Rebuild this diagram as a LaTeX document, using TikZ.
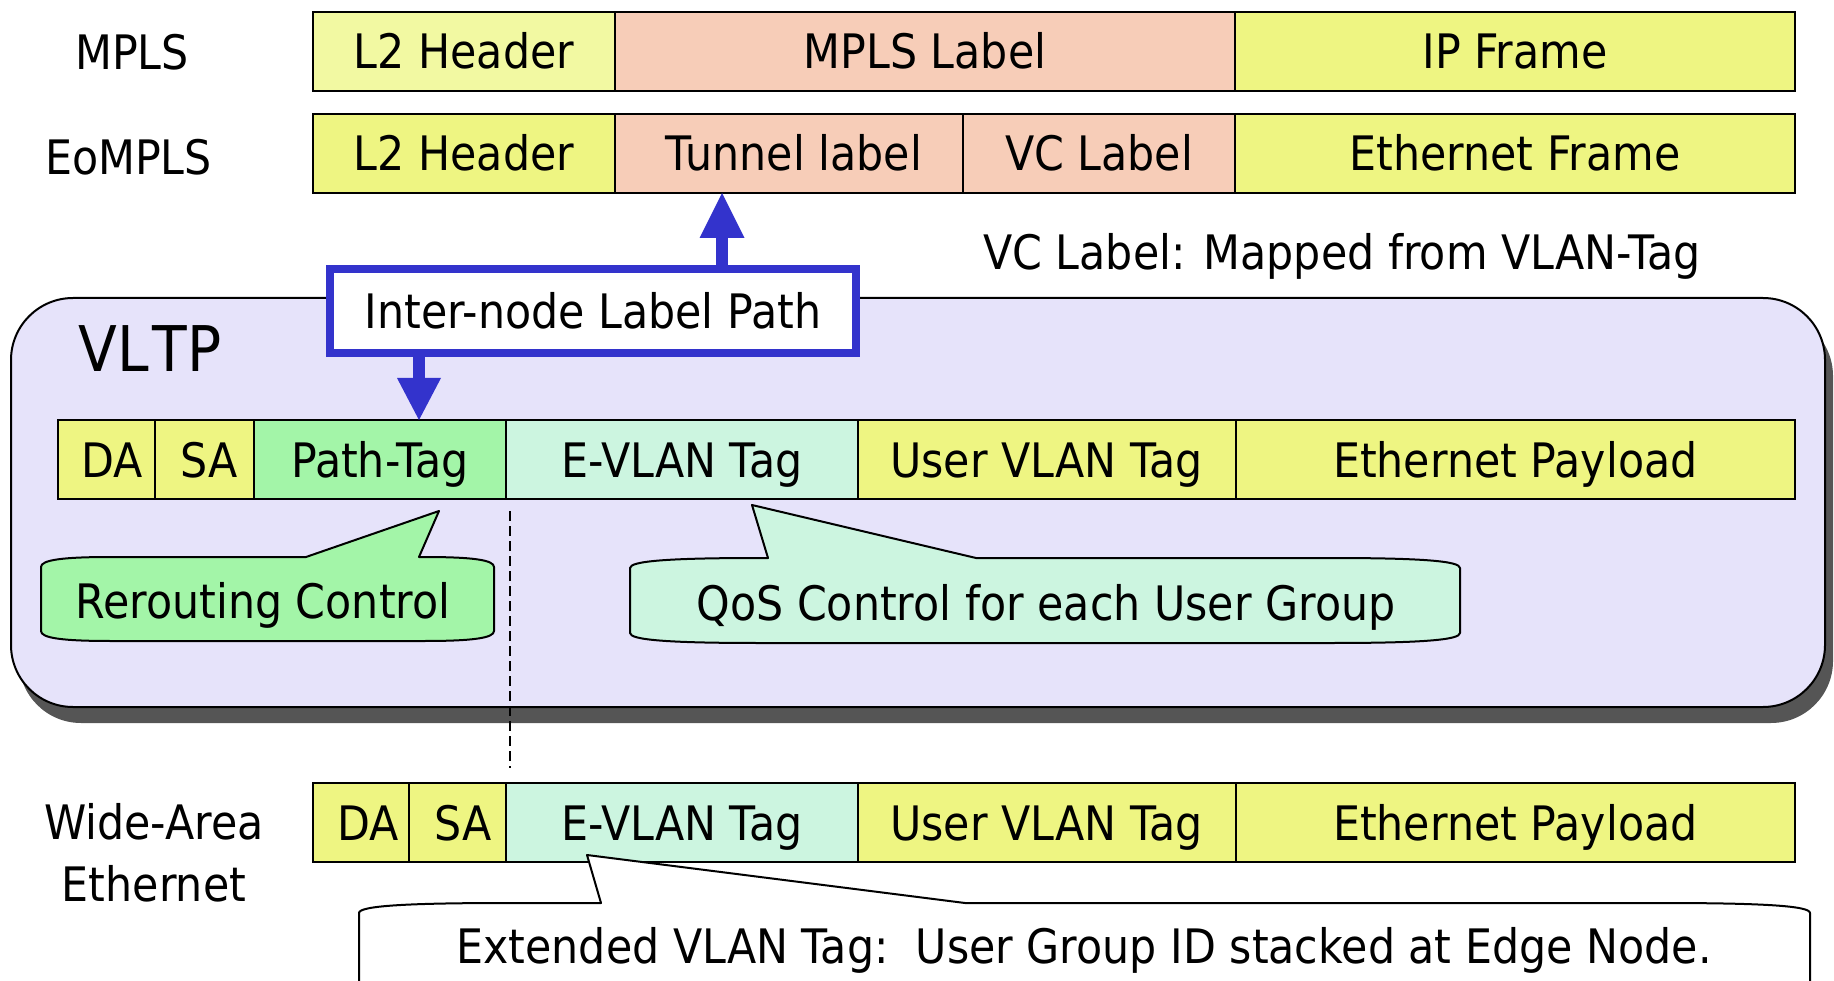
\documentclass[tikz,border=0pt]{standalone}
\usepackage{fontspec}
\setmainfont{DejaVu Sans}[FakeStretch=0.9]
\usetikzlibrary{arrows.meta,calc}

\definecolor{hdrlight}{RGB}{242,249,162}
\definecolor{ylw}{RGB}{238,245,130}
\definecolor{salmon}{RGB}{247,205,184}
\definecolor{pathgreen}{RGB}{163,245,168}
\definecolor{evlan}{RGB}{204,245,224}
\definecolor{lav}{RGB}{230,227,250}
\definecolor{lblue}{RGB}{51,51,204}
\definecolor{shadowgray}{RGB}{85,85,85}

% speech bubble: #1 left, #2 right, #3 top, #4 bottom, #5/#6 tail base x,
% #7 tail tip coordinate, #8 horizontal corner reach, #9 style
\newcommand\bubble[9]{%
  \draw[#9] (#1,#3+10) .. controls (#1,#3+3) and (#1+0.3*#8,#3) .. (#1+#8,#3)
    -- (#5,#3) -- (#7) -- (#6,#3) -- (#2-#8,#3)
    .. controls (#2-0.3*#8,#3) and (#2,#3+3) .. (#2,#3+10)
    -- (#2,#4-10) .. controls (#2,#4-3) and (#2-0.3*#8,#4) .. (#2-#8,#4)
    -- (#1+#8,#4) .. controls (#1+0.3*#8,#4) and (#1,#4-3) .. (#1,#4-10) -- cycle;}

\begin{document}
\begin{tikzpicture}[x=1pt,y=-1pt,
  every node/.style={font=\fontsize{47.5}{62}\selectfont},
  cell/.style={draw=black, line width=2pt, inner sep=0pt, outer sep=0pt,
    minimum height=79pt, text height=35pt, text depth=0pt, anchor=north west},
  label/.style={inner sep=0pt, anchor=base},
  bubbleline/.style={draw=black, line width=2pt, line join=round},
  bluearrow/.style={draw=lblue, line width=12pt},
  guide/.style={draw=black, line width=1.5pt, dash pattern=on 10pt off 5pt}]

\useasboundingbox (0,0) rectangle (1834,981);

% VLTP container with drop shadow
\fill[shadowgray, rounded corners=62pt] (19,314) rectangle (1833,723);
\draw[fill=lav, line width=2pt, rounded corners=62pt] (11,298) rectangle (1825,707);
\node[inner sep=0pt, anchor=base west, font=\fontsize{63}{70}\selectfont] (vltp)
  at (78,372) {V\kern1pt L\kern3pt TP};

% row labels
\node[label] (lmpls) at (132,70) {MPLS};
\node[label] (leompls) at (128.5,175) {EoMPLS};
\node[inner sep=0pt, align=center] (lwae) at (154,853) {Wide-Area\\Ethernet};

% MPLS frame
\node[cell, fill=hdrlight, minimum width=302pt] (m1) at (313,12) {L2 Header};
\node[cell, fill=salmon, minimum width=620pt] (m2) at (615,12) {MPLS Label};
\node[cell, fill=ylw, minimum width=560pt] (m3) at (1235,12) {IP Frame};

% EoMPLS frame
\node[cell, fill=ylw, minimum width=302pt] (e1) at (313,114) {L2 Header};
\node[cell, fill=salmon, minimum width=348pt] (tunnel) at (615,114) {\hspace*{10pt}Tunnel label};
\node[cell, fill=salmon, minimum width=272pt] (vc) at (963,114) {VC Label};
\node[cell, fill=ylw, minimum width=560pt] (e4) at (1235,114) {Ethernet Frame};

\node[label, anchor=base west] (vcnote) at (983,270) {VC Label: Mapped from VLAN-Tag};

% VLTP frame
\node[cell, fill=ylw, minimum width=96.5pt] (da1) at (58,420) {\hspace*{12pt}DA};
\node[cell, fill=ylw, minimum width=99.5pt] (sa1) at (154.5,420) {\hspace*{9pt}SA};
\node[cell, fill=pathgreen, minimum width=252pt] (ptag) at (254,420) {Path-Tag};
\node[cell, fill=evlan, minimum width=351.5pt] (ev1) at (506,420) {E-VLAN Tag};
\node[cell, fill=ylw, minimum width=378pt] (uv1) at (857.5,420) {User VLAN Tag};
\node[cell, fill=ylw, minimum width=559.5pt] (pl1) at (1235.5,420) {Ethernet Payload};

% callouts inside VLTP
\coordinate (tipR) at (439,511);
\coordinate (tipQ) at (752,505);
\bubble{41}{494}{557}{641}{306}{419}{tipR}{70}{bubbleline, fill=pathgreen}
\node[label] (reroute) at (263,618) {Rerouting Control};
\bubble{630}{1460}{558}{643}{768}{976}{tipQ}{130}{bubbleline, fill=evlan}
\node[label] (qos) at (1046,620) {QoS Control for each User Group};

% wide-area Ethernet frame
\node[cell, fill=ylw, minimum width=96pt] (da2) at (313,783) {\hspace*{14pt}DA};
\node[cell, fill=ylw, minimum width=97pt] (sa2) at (409,783) {\hspace*{12pt}SA};
\node[cell, fill=evlan, minimum width=351.5pt] (ev2) at (506,783) {E-VLAN Tag};
\node[cell, fill=ylw, minimum width=378pt] (uv2) at (857.5,783) {User VLAN Tag};
\node[cell, fill=ylw, minimum width=559.5pt] (pl2) at (1235.5,783) {Ethernet Payload};

% E-VLAN tag carried over to the wide-area frame
\draw[guide] ([xshift=4pt,yshift=-12pt]ev1.south west)
  -- ([xshift=4pt,yshift=15pt]ev2.north west);

\coordinate (tipE) at (587,855);
\bubble{359}{1810}{903}{992}{601}{965}{tipE}{150}{bubbleline, fill=white}
\node[label] (extended) at (1084,963) {Extended VLAN Tag:~~User Group ID stacked at Edge Node.};

% inter-node label path and its arrows
\coordinate (upx) at (722,0);
\coordinate (dnx) at (419,0);
\node[draw=lblue, line width=8pt, fill=white, inner sep=0pt, outer sep=0pt,
  minimum width=526pt, minimum height=84pt, text height=35pt, text depth=0pt] (ilp)
  at (593,311) {Inter-node Label Path};
\draw[bluearrow, -{Triangle[length=45pt, width=45pt, line width=0pt]}]
  (ilp.north -| upx) -- (tunnel.south -| upx);
\draw[bluearrow, -{Triangle[length=42pt, width=44pt, line width=0pt]}]
  (ilp.south -| dnx) -- (ptag.north -| dnx);

\end{tikzpicture}
\end{document}
